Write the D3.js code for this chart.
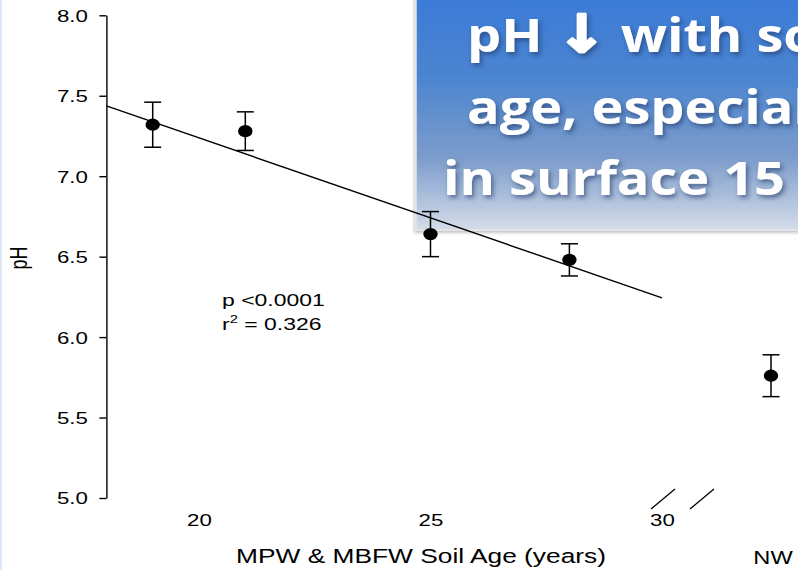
<!DOCTYPE html>
<html>
<head>
<meta charset="utf-8">
<script src="https://cdn.jsdelivr.net/npm/d3@7"></script>
<style>
  html, body { margin: 0; padding: 0; background: #fff; }
  svg { display: block; }
</style>
</head>
<body>
<svg id="chart" width="798" height="570"></svg>
<script>
// Soil pH against soil age (mean ± SE)
const ages      = [19, 21, 25, 28];
const phMeans   = [7.32, 7.28, 6.64, 6.48];
const phErrors  = [0.14, 0.12, 0.14, 0.10];

// Separate NW group shown past the axis break
const nwGroups  = ["NW"];
const nwMeans   = [5.76];
const nwErrors  = [0.13];

const yTicks    = [5.0, 5.5, 6.0, 6.5, 7.0, 7.5, 8.0];
const xTicks    = [20, 25, 30];

// Linear fit for the MPW & MBFW sites
const fitIntercept = 9.226;
const fitSlope     = -0.0994;
const fitSpan      = [18, 30];
const pText        = "p <0.0001";
const r2Value      = "0.326";

// Headline, split into runs so the arrow can use a font that carries it
const titleLines   = [
  [["pH ", 0], ["\u2193", 1], [" with soil", 0]],
  [["age, especially", 0]],
  [["in surface 15 cm", 0]]
];
const xTitle       = "MPW & MBFW Soil Age (years)";
const yTitle       = "pH";

const SX = 1.35;   // horizontal text stretch
const FONT = "'Liberation Sans', Arial, Helvetica, sans-serif";

const svg = d3.select("#chart");
const defs = svg.append("defs");

const grad = defs.append("linearGradient")
  .attr("id", "boxGrad").attr("x1", 0).attr("y1", 0).attr("x2", 0).attr("y2", 1);
grad.append("stop").attr("offset", "0%").attr("stop-color", "#3b7ad8");
grad.append("stop").attr("offset", "35%").attr("stop-color", "#4a84d0");
grad.append("stop").attr("offset", "70%").attr("stop-color", "#7c9ccb");
grad.append("stop").attr("offset", "100%").attr("stop-color", "#d4dce8");

const boxShadow = defs.append("filter").attr("id", "boxShadow")
  .attr("x", "-5%").attr("y", "-5%").attr("width", "110%").attr("height", "110%");
boxShadow.append("feDropShadow").attr("dx", -1).attr("dy", 2)
  .attr("stdDeviation", 1.5).attr("flood-color", "#000").attr("flood-opacity", 0.25);

const textShadow = defs.append("filter").attr("id", "textShadow")
  .attr("x", "-10%").attr("y", "-20%").attr("width", "120%").attr("height", "150%");
textShadow.append("feDropShadow").attr("dx", 2).attr("dy", 3)
  .attr("stdDeviation", 2.2).attr("flood-color", "#1b3766").attr("flood-opacity", 0.6);

// thin slide edge on the left
svg.append("rect").attr("x", 0).attr("y", 0).attr("width", 2).attr("height", 570)
  .attr("fill", "#dce8f5");

// Scales
const x = d3.scaleLinear().domain([18, 30]).range([106.4, 662]);
const y = d3.scaleLinear().domain([5, 8]).range([498, 15.3]);
const xNW = d3.scalePoint().domain(nwGroups).range([700, 842]).padding(0.5);

// Headline box
const box = svg.append("g");
box.append("rect")
  .attr("x", 416).attr("y", -10).attr("width", 420).attr("height", 240)
  .attr("fill", "url(#boxGrad)").attr("stroke", "#e3e6ea").attr("stroke-width", 1.5)
  .attr("filter", "url(#boxShadow)");
const titleStarts = [467, 467, 443];
const titleBase = [52, 124, 195];
titleLines.forEach((runs, i) => {
  const t = box.append("text")
    .attr("transform", `translate(${titleStarts[i]},${titleBase[i]}) scale(1.15,1)`)
    .attr("font-family", "'Open Sans', Lato, sans-serif")
    .attr("font-weight", 700)
    .attr("font-size", 47)
    .attr("fill", "#fff")
    .attr("filter", "url(#textShadow)")
    .attr("xml:space", "preserve")
    .style("white-space", "pre");
  runs.forEach(([s, isArrow]) => {
    const ts = t.append("tspan").text(s);
    if (isArrow) {
      ts.attr("font-family", "'DejaVu Sans', sans-serif").attr("font-size", 52)
        .attr("stroke", "#fff").attr("stroke-width", 2.5).attr("stroke-linejoin", "round");
    }
  });
});

// Y axis
const yAxis = svg.append("g")
  .attr("transform", `translate(${x(18)},0)`)
  .call(d3.axisLeft(y).tickValues(yTicks).tickFormat(d3.format(".1f")).tickSize(7).tickSizeOuter(0));
yAxis.select(".domain").attr("stroke", "#000").attr("stroke-width", 1.4);
yAxis.selectAll(".tick line").attr("stroke", "#000").attr("stroke-width", 1.4);
yAxis.selectAll(".tick text")
  .attr("font-family", FONT).attr("font-size", 16.5).attr("fill", "#000")
  .attr("x", -18.5 / SX).attr("dy", "0.36em")
  .attr("transform", `scale(${SX},1)`);

// X axis: labels only
const xAxis = svg.append("g")
  .attr("transform", `translate(0,${y(5)})`)
  .call(d3.axisBottom(x).tickValues(xTicks).tickSize(0));
xAxis.select(".domain").remove();
xAxis.selectAll(".tick text")
  .attr("font-family", FONT).attr("font-size", 16.5).attr("fill", "#000")
  .attr("y", 28).attr("dy", 0)
  .attr("transform", `scale(${SX},1)`);

// Axis break marks
const breaks = [x(30) + 1, x(30) + 40];
svg.selectAll("line.brk").data(breaks).enter().append("line")
  .attr("class", "brk")
  .attr("x1", d => d - 12).attr("y1", y(5) + 11)
  .attr("x2", d => d + 12).attr("y2", y(5) - 9)
  .attr("stroke", "#000").attr("stroke-width", 1.3);

// Regression line
svg.append("line")
  .attr("x1", x(fitSpan[0])).attr("y1", y(fitIntercept + fitSlope * fitSpan[0]))
  .attr("x2", x(fitSpan[1])).attr("y2", y(fitIntercept + fitSlope * fitSpan[1]))
  .attr("stroke", "#000").attr("stroke-width", 1.4);

// Points with error bars
const pts = ages.map((a, i) => ({ px: x(a), m: phMeans[i], e: phErrors[i] }))
  .concat(nwGroups.map((g, i) => ({ px: xNW(g), m: nwMeans[i], e: nwErrors[i] })));

const pg = svg.selectAll("g.pt").data(pts).enter().append("g").attr("class", "pt");
pg.append("line")
  .attr("x1", d => d.px).attr("x2", d => d.px)
  .attr("y1", d => y(d.m + d.e)).attr("y2", d => y(d.m - d.e))
  .attr("stroke", "#000").attr("stroke-width", 1.5);
[1, -1].forEach(s => {
  pg.append("line")
    .attr("x1", d => d.px - 8.5).attr("x2", d => d.px + 8.5)
    .attr("y1", d => y(d.m + s * d.e)).attr("y2", d => y(d.m + s * d.e))
    .attr("stroke", "#000").attr("stroke-width", 1.5);
});
pg.append("ellipse")
  .attr("cx", d => d.px).attr("cy", d => y(d.m))
  .attr("rx", 7.2).attr("ry", 6.1).attr("fill", "#000");

// Fit statistics
const st = svg.append("g").attr("font-family", FONT).attr("font-size", 17).attr("fill", "#000");
st.append("text").attr("transform", `translate(222,306) scale(${SX},1)`).text(pText);
const r2 = st.append("text").attr("transform", `translate(222,330) scale(${SX},1)`);
r2.append("tspan").text("r");
r2.append("tspan").attr("font-size", 11).attr("dy", -7).text("2");
r2.append("tspan").attr("dy", 7).text(" = " + r2Value);

// Axis titles
svg.append("text")
  .attr("transform", `translate(421,563) scale(${SX},1)`)
  .attr("text-anchor", "middle")
  .attr("font-family", FONT).attr("font-size", 19.5).attr("fill", "#000")
  .text(xTitle);
svg.selectAll("text.nw").data(nwGroups).enter().append("text")
  .attr("class", "nw")
  .attr("transform", d => `translate(${xNW(d) + 2},564) scale(${SX},1)`)
  .attr("text-anchor", "middle")
  .attr("font-family", FONT).attr("font-size", 17.5).attr("fill", "#000")
  .text(d => d);
svg.append("text")
  .attr("transform", `translate(27,258) rotate(-90) scale(1,${SX})`)
  .attr("text-anchor", "middle")
  .attr("font-family", FONT).attr("font-size", 18).attr("fill", "#000")
  .text(yTitle);
</script>
</body>
</html>
